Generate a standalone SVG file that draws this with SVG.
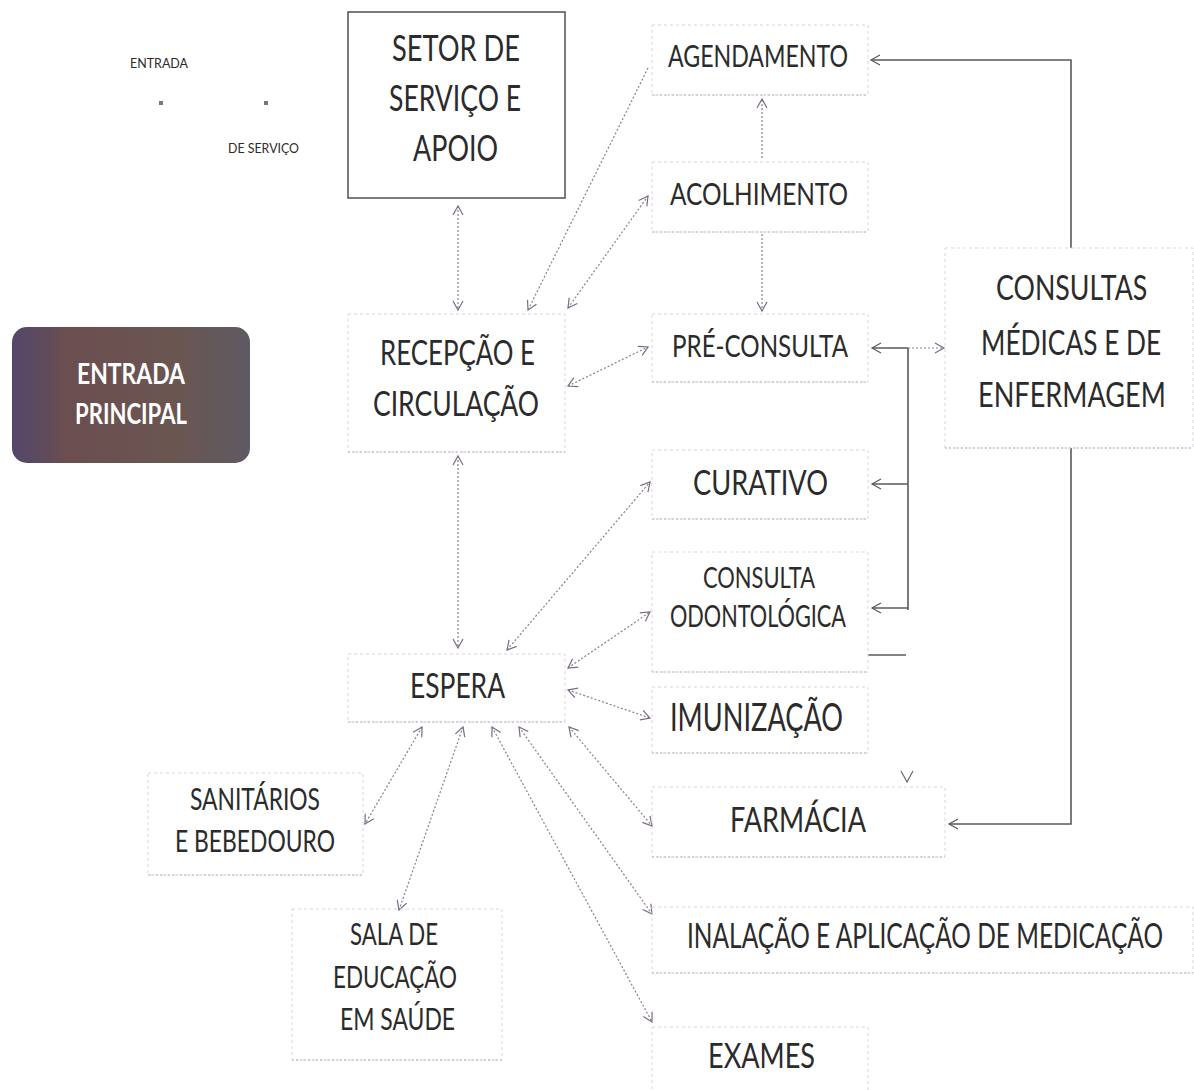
<svg xmlns="http://www.w3.org/2000/svg" width="1194" height="1090" viewBox="0 0 1194 1090">
<defs>
<linearGradient id="gEntrada" x1="0" y1="0" x2="1" y2="0">
<stop offset="0" stop-color="#55476a"/>
<stop offset="0.14" stop-color="#5f4b5c"/>
<stop offset="0.22" stop-color="#6b4e50"/>
<stop offset="0.7" stop-color="#6a5651"/>
<stop offset="1" stop-color="#5e5a63"/>
</linearGradient>
<marker id="aDot" markerUnits="userSpaceOnUse" markerWidth="12" markerHeight="12" refX="10" refY="6" orient="auto-start-reverse">
<path d="M1,1 L10,6 L1,11" fill="none" stroke="#7a6a82" stroke-width="1.2"/>
</marker>
<marker id="aSolid" markerUnits="userSpaceOnUse" markerWidth="12" markerHeight="12" refX="10" refY="6" orient="auto-start-reverse">
<path d="M1,1 L10,6 L1,11" fill="none" stroke="#5a5a5a" stroke-width="1.2"/>
</marker>
</defs>
<style>
.bx{fill:none;stroke:#d9d5de;stroke-width:1;stroke-dasharray:3 3}
.bb{stroke:#b9b2c8;stroke-width:1.2;stroke-dasharray:2 2}
.t{font-family:Lato,"Liberation Sans",sans-serif;fill:#2b2b2b;font-weight:400}
.dot{fill:none;stroke:#8a7c92;stroke-width:1.2;stroke-dasharray:2 2}
.sol{fill:none;stroke:#5a5a5a;stroke-width:1.6}
</style>
<rect width="1194" height="1090" fill="#ffffff"/>

<g id="connectors">
<line class="dot" x1="458" y1="206" x2="458" y2="310" marker-start="url(#aDot)" marker-end="url(#aDot)"/>
<line class="dot" x1="648" y1="68" x2="528" y2="310" marker-end="url(#aDot)"/>
<line class="dot" x1="568" y1="308" x2="648" y2="196" marker-start="url(#aDot)" marker-end="url(#aDot)"/>
<line class="dot" x1="762" y1="158" x2="762" y2="99" marker-end="url(#aDot)"/>
<line class="dot" x1="762" y1="234" x2="762" y2="311" marker-end="url(#aDot)"/>
<line class="dot" x1="568" y1="386" x2="648" y2="347" marker-start="url(#aDot)" marker-end="url(#aDot)"/>
<line class="sol" x1="908" y1="348" x2="908" y2="610"/>
<line class="sol" x1="908" y1="348" x2="872" y2="348" marker-end="url(#aSolid)"/>
<line class="sol" x1="908" y1="484" x2="872" y2="484" marker-end="url(#aSolid)"/>
<line class="sol" x1="908" y1="608" x2="872" y2="608" marker-end="url(#aSolid)"/>
<line class="dot" x1="908" y1="348" x2="944" y2="348" marker-end="url(#aDot)"/>
<line class="sol" x1="868" y1="655" x2="906" y2="655"/>
<line class="dot" x1="458" y1="456" x2="458" y2="648" marker-start="url(#aDot)" marker-end="url(#aDot)"/>
<line class="dot" x1="507" y1="650" x2="650" y2="482" marker-start="url(#aDot)" marker-end="url(#aDot)"/>
<line class="dot" x1="568" y1="668" x2="650" y2="612" marker-start="url(#aDot)" marker-end="url(#aDot)"/>
<line class="dot" x1="568" y1="690" x2="650" y2="718" marker-start="url(#aDot)" marker-end="url(#aDot)"/>
<line class="dot" x1="569" y1="727" x2="652" y2="826" marker-start="url(#aDot)" marker-end="url(#aDot)"/>
<line class="dot" x1="519" y1="727" x2="652" y2="914" marker-start="url(#aDot)" marker-end="url(#aDot)"/>
<line class="dot" x1="492" y1="727" x2="652" y2="1022" marker-start="url(#aDot)" marker-end="url(#aDot)"/>
<line class="dot" x1="422" y1="727" x2="365" y2="824" marker-start="url(#aDot)" marker-end="url(#aDot)"/>
<line class="dot" x1="463" y1="727" x2="399" y2="910" marker-start="url(#aDot)" marker-end="url(#aDot)"/>
<polyline class="sol" points="1071,248 1071,60 871,60" marker-end="url(#aSolid)"/>
<polyline class="sol" points="1071,448 1071,824 949,824" marker-end="url(#aSolid)"/>
<path d="M901,771 L907,782 L913,771" fill="none" stroke="#6a6a6a" stroke-width="1.2"/>
</g>

<g id="legend">
<text class="t" x="130" y="68" font-size="13" textLength="58" lengthAdjust="spacingAndGlyphs" fill="#555">ENTRADA</text>
<rect x="159" y="101" width="4" height="4" fill="#777"/>
<rect x="264" y="101" width="4" height="4" fill="#777"/>
<text class="t" x="228" y="153" font-size="13" textLength="71" lengthAdjust="spacingAndGlyphs" fill="#555">DE SERVIÇO</text>
</g>

<g id="setor">
<rect x="348" y="12" width="217" height="186" fill="#fff" stroke="#5a5a5a" stroke-width="1.6"/>
<text class="t" x="392" y="61" font-size="36" textLength="128" lengthAdjust="spacingAndGlyphs">SETOR DE</text>
<text class="t" x="389" y="111" font-size="36" textLength="132" lengthAdjust="spacingAndGlyphs">SERVIÇO E</text>
<text class="t" x="413" y="161" font-size="36" textLength="85" lengthAdjust="spacingAndGlyphs">APOIO</text>
</g>

<g id="agendamento">
<rect class="bx" x="652" y="25" width="216" height="70"/>
<line class="bb" x1="652" y1="95" x2="868" y2="95"/>
<text class="t" x="668" y="67" font-size="31" textLength="180" lengthAdjust="spacingAndGlyphs">AGENDAMENTO</text>
</g>

<g id="acolhimento">
<rect class="bx" x="652" y="162" width="216" height="70"/>
<line class="bb" x1="652" y1="232" x2="868" y2="232"/>
<text class="t" x="670" y="205" font-size="31" textLength="178" lengthAdjust="spacingAndGlyphs">ACOLHIMENTO</text>
</g>

<g id="preconsulta">
<rect class="bx" x="652" y="314" width="216" height="68"/>
<line class="bb" x1="652" y1="382" x2="868" y2="382"/>
<text class="t" x="672" y="357" font-size="31" textLength="176" lengthAdjust="spacingAndGlyphs">PRÉ-CONSULTA</text>
</g>

<g id="consultas">
<rect class="bx" x="945" y="248" width="248" height="200"/>
<line class="bb" x1="945" y1="448" x2="1193" y2="448"/>
<text class="t" x="0" y="0" transform="matrix(0.85 0 0 1 996 300)" font-size="34" textLength="178" lengthAdjust="spacingAndGlyphs">CONSULTAS</text>
<text class="t" x="0" y="0" transform="matrix(0.85 0 0 1 981 355)" font-size="34" textLength="212" lengthAdjust="spacingAndGlyphs">MÉDICAS E DE</text>
<text class="t" x="0" y="0" transform="matrix(0.85 0 0 1 978 407)" font-size="34" textLength="221" lengthAdjust="spacingAndGlyphs">ENFERMAGEM</text>
</g>

<g id="entrada-principal">
<rect x="12" y="327" width="238" height="136" rx="15" ry="15" fill="url(#gEntrada)"/>
<text x="77" y="384" font-family="Lato,'Liberation Sans',sans-serif" font-weight="700" font-size="29" fill="#ffffff" textLength="108" lengthAdjust="spacingAndGlyphs">ENTRADA</text>
<text x="75" y="424" font-family="Lato,'Liberation Sans',sans-serif" font-weight="700" font-size="29" fill="#ffffff" textLength="112" lengthAdjust="spacingAndGlyphs">PRINCIPAL</text>
</g>

<g id="recepcao">
<rect class="bx" x="348" y="314" width="217" height="138"/>
<line class="bb" x1="348" y1="452" x2="565" y2="452"/>
<text class="t" x="380" y="365" font-size="35" textLength="155" lengthAdjust="spacingAndGlyphs">RECEPÇÃO E</text>
<text class="t" x="373" y="416" font-size="35" textLength="166" lengthAdjust="spacingAndGlyphs">CIRCULAÇÃO</text>
</g>

<g id="curativo">
<rect class="bx" x="652" y="450" width="216" height="69"/>
<line class="bb" x1="652" y1="519" x2="868" y2="519"/>
<text class="t" x="693" y="495" font-size="35" textLength="135" lengthAdjust="spacingAndGlyphs">CURATIVO</text>
</g>

<g id="odontologica">
<rect class="bx" x="652" y="552" width="216" height="120"/>
<line class="bb" x1="652" y1="672" x2="868" y2="672"/>
<text class="t" x="703" y="588" font-size="28" textLength="112" lengthAdjust="spacingAndGlyphs">CONSULTA</text>
<text class="t" x="670" y="627" font-size="30" textLength="176" lengthAdjust="spacingAndGlyphs">ODONTOLÓGICA</text>
</g>

<g id="imunizacao">
<rect class="bx" x="652" y="687" width="216" height="66"/>
<line class="bb" x1="652" y1="753" x2="868" y2="753"/>
<text class="t" x="670" y="731" font-size="38" textLength="173" lengthAdjust="spacingAndGlyphs">IMUNIZAÇÃO</text>
</g>

<g id="farmacia">
<rect class="bx" x="652" y="787" width="293" height="70"/>
<line class="bb" x1="652" y1="857" x2="945" y2="857"/>
<text class="t" x="730" y="832" font-size="34" textLength="136" lengthAdjust="spacingAndGlyphs">FARMÁCIA</text>
</g>

<g id="inalacao">
<rect class="bx" x="652" y="907" width="541" height="66"/>
<line class="bb" x1="652" y1="973" x2="1193" y2="973"/>
<text class="t" x="0" y="0" transform="matrix(0.68 0 0 1 687 948)" font-size="34" textLength="700" lengthAdjust="spacingAndGlyphs">INALAÇÃO E APLICAÇÃO DE MEDICAÇÃO</text>
</g>

<g id="exames">
<rect class="bx" x="652" y="1027" width="216" height="70"/>
<text class="t" x="708" y="1068" font-size="35" textLength="107" lengthAdjust="spacingAndGlyphs">EXAMES</text>
</g>

<g id="espera">
<rect class="bx" x="348" y="654" width="217" height="68"/>
<line class="bb" x1="348" y1="722" x2="565" y2="722"/>
<text class="t" x="410" y="698" font-size="35" textLength="95" lengthAdjust="spacingAndGlyphs">ESPERA</text>
</g>

<g id="sanitarios">
<rect class="bx" x="148" y="773" width="215" height="102"/>
<line class="bb" x1="148" y1="875" x2="363" y2="875"/>
<text class="t" x="190" y="810" font-size="31" textLength="130" lengthAdjust="spacingAndGlyphs">SANITÁRIOS</text>
<text class="t" x="175" y="852" font-size="31" textLength="160" lengthAdjust="spacingAndGlyphs">E BEBEDOURO</text>
</g>

<g id="sala-educacao">
<rect class="bx" x="292" y="909" width="210" height="151"/>
<line class="bb" x1="292" y1="1060" x2="502" y2="1060"/>
<text class="t" x="350" y="945" font-size="31" textLength="88" lengthAdjust="spacingAndGlyphs">SALA DE</text>
<text class="t" x="333" y="988" font-size="31" textLength="124" lengthAdjust="spacingAndGlyphs">EDUCAÇÃO</text>
<text class="t" x="340" y="1030" font-size="31" textLength="115" lengthAdjust="spacingAndGlyphs">EM SAÚDE</text>
</g>
</svg>
